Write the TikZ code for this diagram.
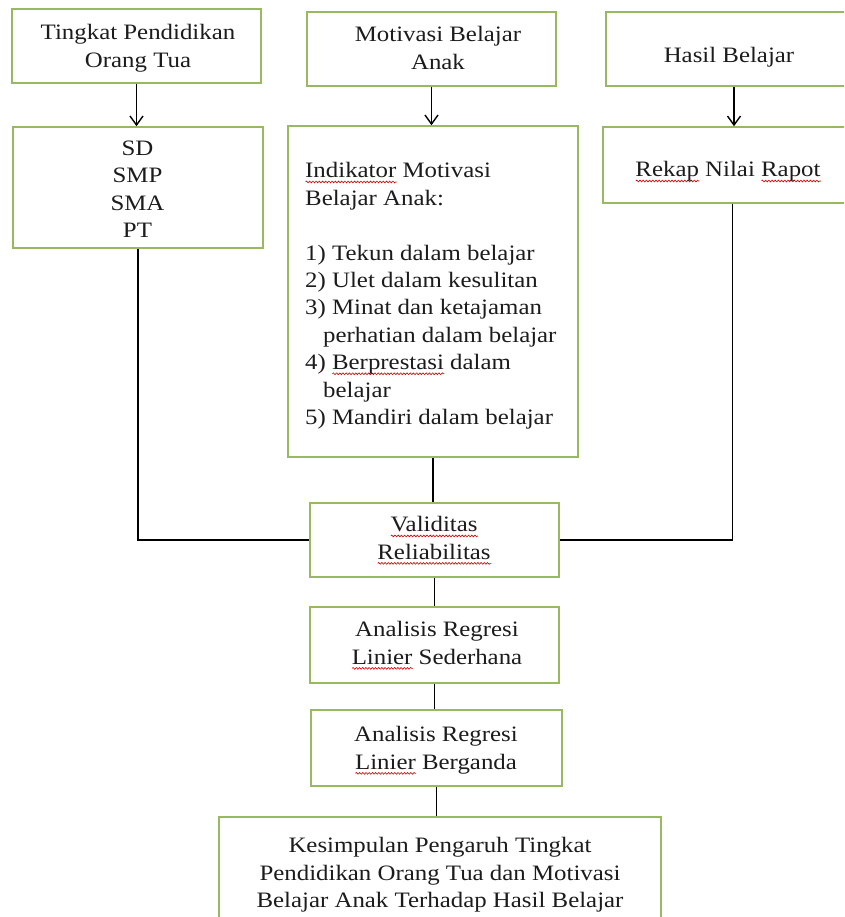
\documentclass[tikz,border=0pt]{standalone}
\usepackage{fontspec}
\setmainfont{Liberation Serif}[FakeStretch=1.13]
\usetikzlibrary{arrows.meta,decorations.pathmorphing}
\definecolor{boxgreen}{RGB}{152,184,98}
\definecolor{txtcol}{RGB}{28,28,28}
\newcommand\sqg[1]{\setbox0\hbox{#1}\rlap{\tikz[baseline=0pt]\draw[red!85!black, line width=0.6pt, decorate, decoration={snake, amplitude=0.9pt, segment length=3.2pt}] (0pt,-4pt) -- (\wd0,-4pt);}\box0\relax}
\begin{document}
\begin{tikzpicture}[x=1pt,y=-1pt,
  box/.style={draw=boxgreen, line width=1.5pt, fill=white, inner sep=0pt},
  lbl/.style={font=\fontsize{22}{27.4}\selectfont, text=txtcol, align=center, inner sep=0pt, anchor=north},
  conn/.style={line width=1.4pt, black},
  arr/.style={conn, -{Straight Barb[length=9pt,width=13pt]}}]
\useasboundingbox (0,0) rectangle (844,917);
\fill[white] (0,0) rectangle (844,917);
\clip (0,0) rectangle (844,917);

% boxes
\node[box, minimum width=249pt, minimum height=74pt] (tp) at (136.5,46) {};
\node[box, minimum width=249pt, minimum height=74pt] (mb) at (431.5,49) {};
\node[box, minimum width=256pt, minimum height=74pt] (hb) at (734,49) {};
\node[box, minimum width=250pt, minimum height=121pt] (sd) at (138,187.5) {};
\node[box, minimum width=290pt, minimum height=331pt] (ind) at (433,291.5) {};
\node[box, minimum width=259pt, minimum height=76pt] (rk) at (732.5,165) {};
\node[box, minimum width=249pt, minimum height=74pt] (val) at (434.5,540) {};
\node[box, minimum width=249pt, minimum height=76pt] (sed) at (434.5,645) {};
\node[box, minimum width=251pt, minimum height=76pt] (brg) at (436.5,748) {};
\node[box, minimum width=442pt, minimum height=116pt] (kes) at (440,875) {};

% texts
\node[lbl] (tpT) at (138,24.5) {Tingkat Pendidikan\\Orang Tua};
\node[lbl] (mbT) at (438,26.5) {Motivasi Belajar\\Anak};
\node[lbl, anchor=base] (hbT) at (729,63) {Hasil Belajar};
\node[lbl] (sdT) at (137.5,140.5) {SD\\SMP\\SMA\\PT};
\node[lbl, align=left, anchor=north west] (indT) at (305,162.5)
 {\sqg{Indikator} Motivasi\\Belajar Anak:\\[27.4pt]1) Tekun dalam belajar\\2) Ulet dalam kesulitan\\3) Minat dan ketajaman\\\hspace*{18pt}perhatian dalam belajar\\4) \sqg{Berprestasi} dalam\\\hspace*{18pt}belajar\\5) Mandiri dalam belajar};
\node[lbl, anchor=base] (rkT) at (728,177) {\sqg{Rekap} Nilai \sqg{Rapot}};
\node[lbl] (valT) at (434,516.5) {\sqg{Validitas}\\\sqg{Reliabilitas}};
\node[lbl] (sedT) at (437,621.5) {Analisis Regresi\\\sqg{Linier} Sederhana};
\node[lbl] (brgT) at (436,726.5) {Analisis Regresi\\\sqg{Linier} Berganda};
\node[lbl] (kesT) at (440,837.5) {Kesimpulan Pengaruh Tingkat\\Pendidikan Orang Tua dan Motivasi\\Belajar Anak Terhadap Hasil Belajar};

% connectors
\draw[arr] (tp.south) -- (tp.south |- sd.north);
\draw[arr] (mb.south) -- (mb.south |- ind.north);
\draw[arr] (hb.south) -- (hb.south |- rk.north);
\draw[conn] (sd.south) |- (val.west);
\draw[conn] (rk.south) |- (val.east);
\draw[conn] (ind.south) -- (ind.south |- val.north);
\draw[conn] (val.south) -- (val.south |- sed.north);
\draw[conn] (sed.south) -- (sed.south |- brg.north);
\draw[conn] (brg.south) -- (brg.south |- kes.north);
\end{tikzpicture}
\end{document}
